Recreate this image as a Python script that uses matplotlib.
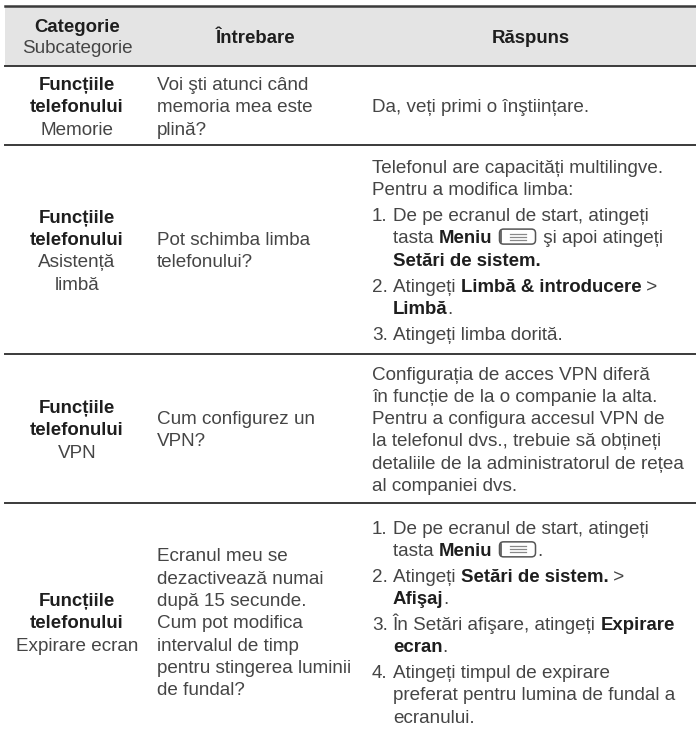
import re
import matplotlib.pyplot as plt
from matplotlib.patches import FancyBboxPatch, Rectangle

W, H = 696, 732

# header texts
head_cat = "Categorie"
head_sub = "Subcategorie"
head_q = "Întrebare"
head_a = "Răspuns"

# table content, one entry per row
categories = [["Funcțiile", "telefonului"]] * 4
subcategories = [["Memorie"], ["Asistență", "limbă"], ["VPN"], ["Expirare ecran"]]
questions = [
    ["Voi şti atunci când", "memoria mea este", "plină?"],
    ["Pot schimba limba", "telefonului?"],
    ["Cum configurez un", "VPN?"],
    ["Ecranul meu se", "dezactivează numai", "după 15 secunde.", "Cum pot modifica",
     "intervalul de timp", "pentru stingerea luminii", "de fundal?"],
]
# answers: blocks of (item number, lines); **..** is bold, {menu} is the menu key icon
answers = [
    [("", ["Da, veți primi o înştiințare."])],
    [("", ["Telefonul are capacități multilingve.", "Pentru a modifica limba:"]),
     ("1.", ["De pe ecranul de start, atingeți", "tasta **Meniu** {menu} şi apoi atingeți",
             "**Setări de sistem.**"]),
     ("2.", ["Atingeți **Limbă & introducere** >", "**Limbă**."]),
     ("3.", ["Atingeți limba dorită."])],
    [("", ["Configurația de acces VPN diferă", "în funcție de la o companie la alta.",
           "Pentru a configura accesul VPN de", "la telefonul dvs., trebuie să obțineți",
           "detaliile de la administratorul de rețea", "al companiei dvs."])],
    [("1.", ["De pe ecranul de start, atingeți", "tasta **Meniu** {menu}."]),
     ("2.", ["Atingeți **Setări de sistem.** >", "**Afişaj**."]),
     ("3.", ["În Setări afişare, atingeți **Expirare**", "**ecran**."]),
     ("4.", ["Atingeți timpul de expirare", "preferat pentru lumina de fundal a", "ecranului."])],
]

# layout (pixels)
FONT = "Liberation Sans"
FS = 13.6
FS_B = 13.4
LH = 22.3
GAP = 3.5
row_edges = [66, 145, 354, 503, 740]
head_top = 6
x_line0 = 5
col1_cx = 77
col2_x = 157
col3_x = 372
head_q_cx = 256
head_a_cx = 531
ICON_W = 36
C_TXT = "#454545"
C_BOLD = "#1e1e1e"
C_LINE = "#3a3a3a"

fig = plt.figure(figsize=(W / 100, H / 100), dpi=100)
ax = fig.add_axes([0, 0, 1, 1])
ax.set_xlim(0, W)
ax.set_ylim(H, 0)
ax.axis("off")
renderer = fig.canvas.get_renderer()


def put(x, yc, s, bold=False, ha="left"):
    # yc is the visual middle of the line
    return ax.text(x, yc + 6.8, s, fontsize=FS_B if bold else FS, family=FONT, ha=ha,
                   va="baseline", fontweight="bold" if bold else "normal",
                   color=C_BOLD if bold else C_TXT)


def width(s, bold=False):
    t = put(0, 0, "x" + s + "x", bold)
    w1 = t.get_window_extent(renderer).width
    t.set_text("xx")
    w2 = t.get_window_extent(renderer).width
    t.remove()
    return w1 - w2


def menu_icon(x, yc, w=ICON_W, h=15):
    ax.add_patch(FancyBboxPatch((x, yc - h / 2), w, h, boxstyle="round,pad=0,rounding_size=4",
                                fc="white", ec="#555555", lw=1.1))
    ax.plot([x + 1.5, x + 1.5], [yc - h / 2 + 2, yc + h / 2 - 2], color="#555555", lw=1.2)
    for dy in (-3, 0, 3):
        ax.plot([x + w / 2 - 8, x + w / 2 + 8], [yc + dy, yc + dy], color="#888888", lw=0.9)


def rich_line(x, yc, line):
    bold = False
    for tok in re.split(r"(\*\*|\{menu\})", line):
        if tok == "**":
            bold = not bold
        elif tok == "{menu}":
            menu_icon(x + 2, yc)
            x += ICON_W + 4
        elif tok:
            put(x, yc, tok, bold)
            x += width(tok, bold)


def centers(n, mid):
    return [mid + (i - (n - 1) / 2) * LH for i in range(n)]


# header band
ax.add_patch(Rectangle((x_line0, head_top), W - x_line0, row_edges[0] - head_top,
                       fc="#e4e4e4", ec="none"))
ax.plot([x_line0, W], [head_top, head_top], color=C_LINE, lw=1.8)
hmid = (head_top + row_edges[0]) / 2
put(col1_cx, hmid - 11, head_cat, True, "center")
put(col1_cx, hmid + 10, head_sub, False, "center")
put(head_q_cx, hmid, head_q, True, "center")
put(head_a_cx, hmid, head_a, True, "center")

for y in row_edges[:-1]:
    ax.plot([x_line0, W], [y, y], color=C_LINE, lw=1.4)

for r in range(len(questions)):
    mid = (row_edges[r] + row_edges[r + 1]) / 2
    col1 = [(s, True) for s in categories[r]] + [(s, False) for s in subcategories[r]]
    for yc, (s, b) in zip(centers(len(col1), mid), col1):
        put(col1_cx, yc, s, b, "center")
    for yc, s in zip(centers(len(questions[r]), mid), questions[r]):
        put(col2_x, yc, s)

    # answer column: stack the blocks with a small gap between items
    offs, rows = [], []
    y = 0
    for k, (num, lines) in enumerate(answers[r]):
        if k > 0 and num:
            y += GAP
        for j, ln in enumerate(lines):
            offs.append(y)
            rows.append((num if j == 0 else None, bool(num), ln))
            y += LH
    shift = mid - (offs[0] + offs[-1]) / 2
    indent = width("1. ")
    for off, (num, numbered, ln) in zip(offs, rows):
        yc = off + shift
        if num:
            put(col3_x, yc, num)
        rich_line(col3_x + (indent if numbered else 0), yc, ln)

fig.savefig("out.png", dpi=100)
